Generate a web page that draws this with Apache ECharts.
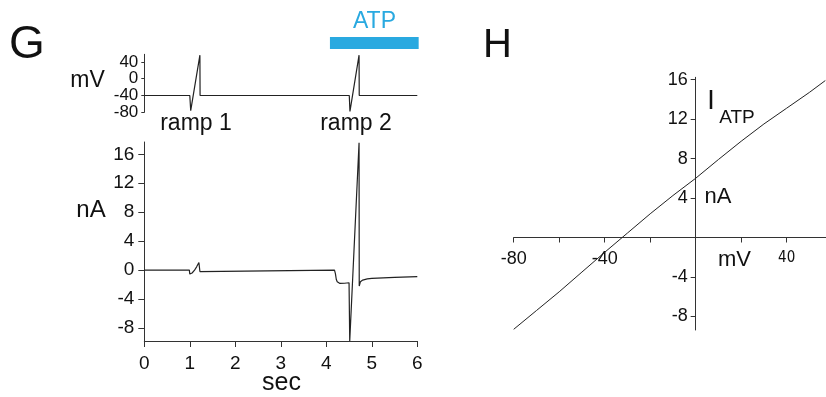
<!DOCTYPE html>
<html>
<head>
<meta charset="utf-8">
<script src="https://cdn.jsdelivr.net/npm/echarts@6/dist/echarts.min.js"></script>
<style>
  html, body { margin: 0; padding: 0; background: #fff; }
  #chart { width: 826px; height: 397px; }
</style>
</head>
<body>
<div id="chart"></div>
<script>
// panel G, top: command voltage (mV) vs time (sec)
var vmTime = [0, 1.0, 1.02, 1.222, 1.226, 4.505, 4.52, 4.72, 4.724, 6];
var vmVal  = [-40, -40, -76, 56, -40, -40, -78, 56, -40, -40];
var vmTicks = [-80, -40, 0, 40];

// panel G, bottom: membrane current (nA) vs time (sec)
var iTime = [0, 0.99, 1.0, 1.05, 1.1, 1.15, 1.2, 1.218, 1.222, 1.26,
             4.18, 4.2, 4.22, 4.24, 4.3, 4.4, 4.5, 4.515, 4.72, 4.724,
             4.75, 4.8, 4.9, 5.0, 5.5, 6.0];
var iVal  = [0, 0, -0.55, -0.4, -0.05, 0.45, 1.05, 1.3, -0.2, 0,
             0, -0.5, -1.3, -1.6, -1.84, -1.82, -1.75, -9.8, 17.6, -2.2,
             -1.6, -1.38, -1.22, -1.15, -1.0, -0.9];
var iTicks = [-8, -4, 0, 4, 8, 12, 16];
var secTicks = [0, 1, 2, 3, 4, 5, 6];

// ATP application bar (sec)
var atpTime = [4.08, 6.03];

// panel H: ATP-evoked current vs voltage
var ivV = [-80, -70, -60, -50, -40, -30, -20, -10, 0, 10, 20, 30, 40, 50, 57];
var ivI = [-9.3, -7.4, -5.5, -3.5, -1.5, 0.45, 2.4, 4.25, 6.0, 7.9, 9.75, 11.5, 13.1, 14.7, 15.9];
var ivXTicks = [-80, -60, -40, -20, 0, 20, 40];
var ivXLabels = [-80, -40, 40];
var ivYTicks = [-8, -4, 0, 4, 8, 12, 16];
var ivYLabels = [-8, -4, 4, 8, 12, 16];

function pairs(xs, ys) {
  return xs.map(function (x, i) { return [x, ys[i]]; });
}

var font = '"Liberation Sans", Arial, Helvetica, sans-serif';
var ink = '#111';
var axisColor = '#333';
var atpBlue = '#29a9e0';

// panel H box; the axes cross at (0 mV, 0 nA)
var hLeft = 513.7, hTop = 77.3, hW = 312.3, hH = 252.7;
var hXMin = -80, hXMax = 57.3, hYMin = -9.37, hYMax = 16.23;
var hXShift = -hW * (0 - hXMin) / (hXMax - hXMin);   // move y axis right to x = 0
var hYShift = -hH * (0 - hYMin) / (hYMax - hYMin);   // move x axis up to y = 0

var chart = echarts.init(document.getElementById('chart'), null, { renderer: 'canvas' });

function txt(text, x, y, size, extra) {
  var s = { text: text, x: x, y: y, fill: ink, font: size + 'px ' + font,
            textAlign: 'center', textVerticalAlign: 'middle' };
  if (extra) { for (var k in extra) s[k] = extra[k]; }
  return { type: 'text', style: s, silent: true };
}

var option = {
  backgroundColor: '#fff',
  animation: false,
  textStyle: { fontFamily: font },
  grid: [
    { left: 144.3, top: 54.3, width: 273, height: 58, outerBoundsMode: 'none' },
    { left: 144.3, top: 142, width: 273, height: 199, outerBoundsMode: 'none' },
    { left: hLeft, top: hTop, width: hW, height: hH, outerBoundsMode: 'none' },
    { left: 144.3, top: 37, width: 273, height: 12, outerBoundsMode: 'none' }
  ],
  xAxis: [
    { type: 'value', gridIndex: 0, min: 0, max: 6, show: false },
    { type: 'value', gridIndex: 1, min: 0, max: 6,
      axisLine: { onZero: false, lineStyle: { color: axisColor, width: 1 } },
      axisTick: { show: true, length: 6, customValues: secTicks, lineStyle: { color: axisColor } },
      axisLabel: { customValues: secTicks, color: ink, fontSize: 19, margin: 13, fontFamily: font },
      splitLine: { show: false } },
    { type: 'value', gridIndex: 2, min: hXMin, max: hXMax, position: 'bottom', offset: hYShift,
      axisLine: { onZero: false, lineStyle: { color: axisColor, width: 1 } },
      axisTick: { show: true, length: 5, customValues: ivXTicks, lineStyle: { color: axisColor } },
      axisLabel: { customValues: ivXLabels, color: ink, fontSize: 18, margin: 13, fontFamily: font,
        formatter: function (v) { return v === 40 ? '{s|40}' : String(v); },
        rich: { s: { fontSize: 15, fontFamily: '"DejaVu Sans Condensed", "Liberation Sans Narrow", sans-serif', color: ink } } },
      splitLine: { show: false } },
    { type: 'value', gridIndex: 3, min: 0, max: 6, show: false }
  ],
  yAxis: [
    { type: 'value', gridIndex: 0, min: -80, max: 58,
      axisLine: { show: true, onZero: false, lineStyle: { color: axisColor, width: 1 } },
      axisTick: { show: true, length: 3, customValues: vmTicks, lineStyle: { color: axisColor } },
      axisLabel: { customValues: vmTicks, color: ink, fontSize: 17, margin: 6, fontFamily: font },
      splitLine: { show: false } },
    { type: 'value', gridIndex: 1, min: -9.8, max: 17.7,
      axisLine: { show: true, onZero: false, lineStyle: { color: axisColor, width: 1 } },
      axisTick: { show: true, length: 6, customValues: iTicks, lineStyle: { color: axisColor } },
      axisLabel: { customValues: iTicks, color: ink, fontSize: 19, margin: 10, fontFamily: font },
      splitLine: { show: false } },
    { type: 'value', gridIndex: 2, min: hYMin, max: hYMax, position: 'left', offset: hXShift,
      axisLine: { show: true, onZero: false, lineStyle: { color: axisColor, width: 1 } },
      axisTick: { show: true, length: 5, customValues: ivYTicks, lineStyle: { color: axisColor } },
      axisLabel: { customValues: ivYLabels, color: ink, fontSize: 18, margin: 8, fontFamily: font },
      splitLine: { show: false } },
    { type: 'value', gridIndex: 3, min: -1, max: 1, show: false }
  ],
  series: [
    { type: 'line', xAxisIndex: 0, yAxisIndex: 0, data: pairs(vmTime, vmVal),
      showSymbol: false, clip: false, lineStyle: { color: '#222', width: 1.2 } },
    { type: 'line', xAxisIndex: 1, yAxisIndex: 1, data: pairs(iTime, iVal),
      showSymbol: false, clip: false, lineStyle: { color: '#222', width: 1.2 } },
    { type: 'line', xAxisIndex: 2, yAxisIndex: 2, data: pairs(ivV, ivI),
      showSymbol: false, clip: false, lineStyle: { color: '#222', width: 1 } },
    { type: 'line', xAxisIndex: 3, yAxisIndex: 3, data: atpTime.map(function (t) { return [t, 0]; }),
      showSymbol: false, clip: false, lineStyle: { color: atpBlue, width: 12, cap: 'butt' } }
  ],
  graphic: [
    txt('G', 27, 45, 46),
    txt('H', 497.5, 46, 40),
    txt('ATP', 374.5, 22, 23, { fill: atpBlue }),
    txt('mV', 87.5, 81, 23),
    txt('ramp 1', 196, 124, 23),
    txt('ramp 2', 356, 124, 23),
    txt('nA', 91, 210, 24),
    txt('sec', 281.5, 383, 25),
    txt('I', 711, 102, 27),
    txt('ATP', 737, 117.5, 19),
    txt('nA', 718, 197, 22),
    txt('mV', 734.5, 260, 22)
  ]
};

chart.setOption(option);
</script>
</body>
</html>
